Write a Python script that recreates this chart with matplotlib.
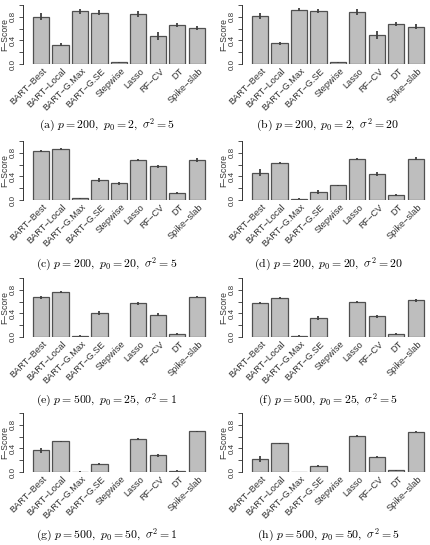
import numpy as np
import matplotlib
matplotlib.use("Agg")
import matplotlib.pyplot as plt

plt.rcParams['font.family'] = ['Liberation Sans', 'DejaVu Sans']
plt.rcParams['mathtext.fontset'] = 'cm'

# methods and panel captions
methods = ["BART\u2212Best", "BART\u2212Local", "BART\u2212G.Max", "BART\u2212G.SE",
           "Stepwise", "Lasso", "RF\u2212CV", "DT", "Spike\u2212slab"]
captions = [r"$\mathrm{(a)}\ p=200,\ p_0=2,\ \sigma^2=5$",
            r"$\mathrm{(b)}\ p=200,\ p_0=2,\ \sigma^2=20$",
            r"$\mathrm{(c)}\ p=200,\ p_0=20,\ \sigma^2=5$",
            r"$\mathrm{(d)}\ p=200,\ p_0=20,\ \sigma^2=20$",
            r"$\mathrm{(e)}\ p=500,\ p_0=25,\ \sigma^2=1$",
            r"$\mathrm{(f)}\ p=500,\ p_0=25,\ \sigma^2=5$",
            r"$\mathrm{(g)}\ p=500,\ p_0=50,\ \sigma^2=1$",
            r"$\mathrm{(h)}\ p=500,\ p_0=50,\ \sigma^2=5$"]

# F-scores (nan = not run)
nan = np.nan
score_a = [0.80, 0.33, 0.89, 0.87, 0.03, 0.85, 0.47, 0.66, 0.61]
score_b = [0.82, 0.35, 0.92, 0.90, 0.03, 0.88, 0.49, 0.68, 0.63]
score_c = [0.83, 0.865, 0.03, 0.34, 0.28, 0.68, 0.57, 0.12, 0.68]
score_d = [0.46, 0.63, 0.02, 0.14, 0.25, 0.70, 0.44, 0.09, 0.70]
score_e = [0.67, 0.76, 0.02, 0.41, nan, 0.57, 0.38, 0.05, 0.68]
score_f = [0.58, 0.66, 0.02, 0.32, nan, 0.59, 0.35, 0.05, 0.62]
score_g = [0.365, 0.52, 0.005, 0.14, nan, 0.555, 0.28, 0.02, 0.69]
score_h = [0.22, 0.49, 0.003, 0.10, nan, 0.61, 0.25, 0.03, 0.68]

# half-widths of the error bars
err_a = [0.06, 0.02, 0.04, 0.04, 0.01, 0.05, 0.07, 0.04, 0.04]
err_b = [0.05, 0.02, 0.03, 0.03, 0.01, 0.05, 0.07, 0.04, 0.04]
err_c = [0.02, 0.02, 0.01, 0.03, 0.02, 0.02, 0.02, 0.02, 0.03]
err_d = [0.06, 0.02, 0.01, 0.03, 0.01, 0.02, 0.03, 0.02, 0.03]
err_e = [0.02, 0.02, 0.01, 0.03, nan, 0.02, 0.02, 0.01, 0.01]
err_f = [0.02, 0.01, 0.01, 0.03, nan, 0.02, 0.02, 0.01, 0.02]
err_g = [0.05, 0.01, 0.005, 0.02, nan, 0.02, 0.02, 0.01, 0.01]
err_h = [0.05, 0.01, 0.003, 0.02, nan, 0.02, 0.02, 0.01, 0.01]

scores = [score_a, score_b, score_c, score_d, score_e, score_f, score_g, score_h]
errs = [err_a, err_b, err_c, err_d, err_e, err_f, err_g, err_h]

W, H = 430, 545
fig = plt.figure(figsize=(W / 100, H / 100), dpi=100)

col_left = [23, 242]
row_zero = [64, 200, 337, 472]
cap_y = [125, 264, 400, 535]
cap_x = [107, 328]
ax_w, ax_h = 185, 59

x = 0.7 + 1.2 * np.arange(len(methods))

for i in range(8):
    r, c = divmod(i, 2)
    left = col_left[c]
    bottom = row_zero[r]
    ax = fig.add_axes([left / W, 1 - bottom / H, ax_w / W, ax_h / H])
    s = np.array(scores[i], dtype=float)
    e = np.array(errs[i], dtype=float)
    ok = ~np.isnan(s)
    ax.bar(x[ok], s[ok], width=1.0, color='#bebebe', edgecolor='#505050', linewidth=0.9)
    ax.vlines(x[ok], s[ok] - e[ok], s[ok] + e[ok], color='#404040', linewidth=1.3)
    ax.set_xlim(-0.42, 11.0)
    ax.set_ylim(0, 1.0)
    for sp in ['top', 'right', 'bottom']:
        ax.spines[sp].set_visible(False)
    ax.spines['left'].set_linewidth(0.7)
    ax.spines['left'].set_color('#333333')
    ax.set_yticks(np.arange(0, 1.01, 0.2))
    ax.set_yticklabels(['0.0', '', '0.4', '', '0.8', ''], rotation=90, va='center',
                       fontsize=5.8, color='#333333')
    ax.tick_params(axis='y', length=3, width=0.6, color='#333333', pad=1.5)
    ax.set_xticks(x + 0.3)
    ax.set_xticklabels(methods, rotation=45, ha='right', va='center',
                       rotation_mode='anchor', fontsize=6.6, color='#333333')
    ax.tick_params(axis='x', length=0, pad=4)
    ax.set_ylabel("F\u2212Score", fontsize=6.2, color='#333333', va='center')
    ax.yaxis.set_label_coords(-18.5 / ax_w, 0.5)
    fig.text(cap_x[c] / W, 1 - cap_y[r] / H, captions[i], ha='center', va='center',
             fontsize=8.5)

fig.savefig("out.png", dpi=100)
